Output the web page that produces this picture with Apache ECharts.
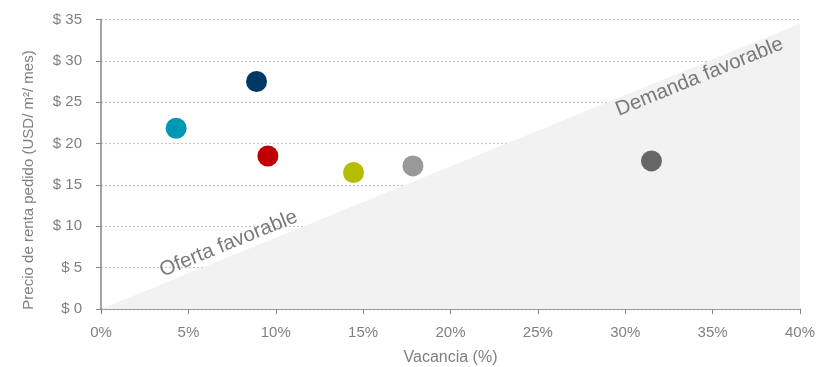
<!DOCTYPE html>
<html><head><meta charset="utf-8">
<script src="https://cdn.jsdelivr.net/npm/echarts@6/dist/echarts.min.js"></script>
<style>html,body{margin:0;padding:0;background:#fff}#c{width:828px;height:367px}</style>
</head><body><div id="c"></div>
<script>
const vacancia = [4.3, 8.9, 9.55, 14.45, 17.85, 31.5];
const precio = [21.85, 27.5, 18.5, 16.5, 17.3, 17.9];
const colores = ['#0097b4', '#003865', '#c00000', '#b5bd00', '#999999', '#666666'];
const yTicks = [0, 5, 10, 15, 20, 25, 30, 35];
const xTicks = [0, 5, 10, 15, 20, 25, 30, 35, 40];
const diagonal = [[0, 0], [40, 34.5]];
const zonas = [
  { nombre: 'Oferta favorable', x: 7.3, y: 7.9 },
  { nombre: 'Demanda favorable', x: 34.25, y: 28.05 }
];
const yNombre = 'Precio de renta pedido (USD/ m²/ mes)';

const chart = echarts.init(document.getElementById('c'));
const font = 'Liberation Sans, Arial, sans-serif';
chart.setOption({
  animation: false,
  grid: { left: 101, right: 28, top: 19.5, bottom: 58, containLabel: false, outerBoundsMode: 'none' },
  graphic: [{
    type: 'text', rotation: Math.PI / 2, silent: true,
    style: { text: yNombre, fill: '#7f7f7f', fontSize: 15, fontFamily: font, align: 'center', verticalAlign: 'middle' },
    x: 29, y: 180
  }],
  xAxis: {
    type: 'value', min: 0, max: 40, interval: 5,
    name: 'Vacancia (%)', nameLocation: 'middle', nameGap: 41,
    nameTextStyle: { color: '#7f7f7f', fontSize: 16, fontFamily: font },
    axisLine: { show: true, lineStyle: { color: '#868686', width: 1.5 } },
    axisTick: { show: true, length: 5, lineStyle: { color: '#868686' } },
    axisLabel: { color: '#7f7f7f', fontSize: 15, fontFamily: font, margin: 16, formatter: v => v + '%' },
    splitLine: { show: false }
  },
  yAxis: {
    type: 'value', min: 0, max: 35, interval: 5,
    axisLine: { show: true, lineStyle: { color: '#868686', width: 1.5 } },
    axisTick: { show: true, length: 5, lineStyle: { color: '#868686' } },
    axisLabel: { color: '#7f7f7f', fontSize: 15, fontFamily: font, margin: 19, formatter: v => '$ ' + v },
    splitLine: { show: true, lineStyle: { color: '#c4c4c4', type: [2, 2], width: 1.2 } }
  },
  series: [
    {
      type: 'line', data: diagonal, symbol: 'none', silent: true, z: 1,
      lineStyle: { width: 0 }, areaStyle: { color: '#f2f2f2', opacity: 1 }
    },
    {
      type: 'scatter', z: 3, symbolSize: 0, silent: true,
      data: zonas.map(z => ({ value: [z.x, z.y], name: z.nombre })),
      label: {
        show: true, position: 'inside', formatter: p => p.name, rotate: 22.2,
        color: '#595959', fontSize: 20.5, fontFamily: font
      }
    },
    {
      type: 'scatter', z: 5, symbolSize: 21,
      itemStyle: { opacity: 1 },
      data: vacancia.map((v, i) => ({ value: [v, precio[i]], itemStyle: { color: colores[i], opacity: 1 } }))
    }
  ]
});
</script></body></html>
